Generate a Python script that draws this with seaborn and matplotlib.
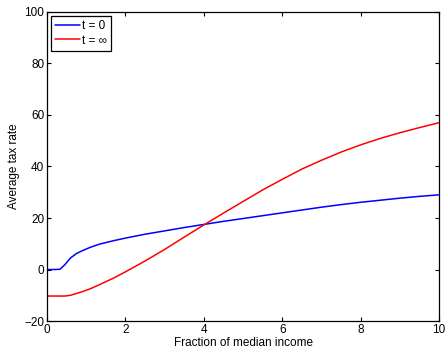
import numpy as np
import pandas as pd
import matplotlib
matplotlib.use("Agg")
import matplotlib.pyplot as plt
import seaborn as sns

# values
income = [0, 0.2, 0.33, 0.45, 0.6, 0.75, 0.9, 1.1, 1.35, 1.7, 2, 2.5, 3, 3.5, 4, 4.5, 5, 5.5, 6, 6.5, 7, 7.5, 8, 8.5, 9, 9.5, 10]
rate_t0 = [0, 0, 0.1, 1.8, 4.5, 6.2, 7.3, 8.6, 9.9, 11.2, 12.2, 13.7, 15.0, 16.3, 17.5, 18.7, 19.8, 20.9, 22.0, 23.1, 24.2, 25.2, 26.1, 26.9, 27.7, 28.4, 29.0]
rate_tinf = [-10.3, -10.3, -10.3, -10.3, -10.0, -9.3, -8.6, -7.5, -5.8, -3.3, -0.9, 3.3, 7.8, 12.6, 17.3, 21.9, 26.4, 30.9, 35.0, 39.0, 42.4, 45.6, 48.4, 50.9, 53.1, 55.1, 57.0]
labels = ["t = 0", "t = \u221e"]

df = pd.concat([
    pd.DataFrame({"income": income, "rate": rate_t0, "series": labels[0]}),
    pd.DataFrame({"income": income, "rate": rate_tinf, "series": labels[1]}),
])

sns.set_style("ticks")
plt.rcParams["font.family"] = ["Liberation Sans", "DejaVu Sans"]
plt.rcParams["xtick.direction"] = "in"
plt.rcParams["ytick.direction"] = "in"
plt.rcParams["text.color"] = "black"
plt.rcParams["axes.labelcolor"] = "black"
plt.rcParams["xtick.color"] = "black"
plt.rcParams["ytick.color"] = "black"

fig = plt.figure(figsize=(4.48, 3.52), dpi=100)
ax = fig.add_axes([0.105, 0.088, 0.875, 0.878])

sns.lineplot(data=df, x="income", y="rate", hue="series", palette=["#0000ff", "#ff0000"],
             linewidth=1.1, ax=ax, sort=False)

ax.set_xlim(0, 10)
ax.set_ylim(-20, 100)
ax.set_xticks([0, 2, 4, 6, 8, 10])
ax.set_yticks([-20, 0, 20, 40, 60, 80, 100])
ax.tick_params(top=True, right=True, labelsize=8.5, length=3, width=0.8, pad=2)
for s in ax.spines.values():
    s.set_linewidth(0.9)
    s.set_color("black")

ax.set_xlabel("Fraction of median income", fontsize=8.5, labelpad=1)
ax.set_ylabel("Average tax rate", fontsize=8.5, labelpad=3)

leg = ax.legend(title=None, loc="upper left", fontsize=8.5, fancybox=False, framealpha=1,
                edgecolor="black", borderaxespad=0.3, handlelength=2.1, handletextpad=0.2,
                borderpad=0.35, labelspacing=0.25)
leg.get_frame().set_linewidth(0.9)

plt.savefig("out.png", dpi=100)
